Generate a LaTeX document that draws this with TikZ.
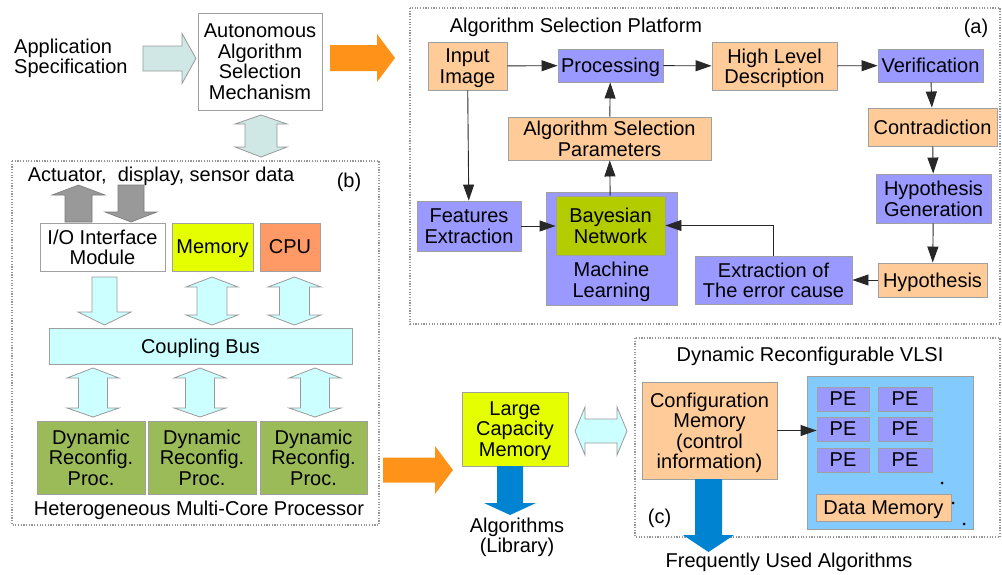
\documentclass[tikz,border=0pt]{standalone}
\usepackage{fontspec}
\setmainfont{Liberation Sans}
\usetikzlibrary{arrows.meta}

\definecolor{peach}{RGB}{255,204,153}
\definecolor{peri}{RGB}{153,153,255}
\definecolor{bayes}{RGB}{178,204,0}
\definecolor{lemon}{RGB}{230,255,0}
\definecolor{cpuorange}{RGB}{255,153,102}
\definecolor{olive}{RGB}{155,187,89}
\definecolor{paleCyan}{RGB}{204,255,255}
\definecolor{paleTeal}{RGB}{207,231,229}
\definecolor{midGray}{RGB}{153,153,153}
\definecolor{hotOrange}{RGB}{255,147,26}
\definecolor{deepBlue}{RGB}{0,132,209}
\definecolor{skyPanel}{RGB}{131,202,255}
\definecolor{boxline}{RGB}{160,160,160}
\definecolor{dotgray}{RGB}{150,150,150}
\definecolor{lineblack}{RGB}{40,40,40}

% block arrows: vertical single, horizontal single, vertical double, horizontal double
\newcommand{\BlkV}[7]{% style, cx, start y, body half, head half, head base y, tip y
  \path[#1] ({#2-#4},#3) -- ({#2+#4},#3) -- ({#2+#4},#6) -- ({#2+#5},#6) -- (#2,#7)
    -- ({#2-#5},#6) -- ({#2-#4},#6) -- cycle;}
\newcommand{\BlkH}[7]{% style, cy, start x, body half, head half, head base x, tip x
  \path[#1] (#3,{#2-#4}) -- (#3,{#2+#4}) -- (#6,{#2+#4}) -- (#6,{#2+#5}) -- (#7,#2)
    -- (#6,{#2-#5}) -- (#6,{#2-#4}) -- cycle;}
\newcommand{\BlkVV}[8]{% style, cx, top tip, top base, bottom base, bottom tip, body half, head half
  \path[#1] (#2,#3) -- ({#2+#8},#4) -- ({#2+#7},#4) -- ({#2+#7},#5) -- ({#2+#8},#5) -- (#2,#6)
    -- ({#2-#8},#5) -- ({#2-#7},#5) -- ({#2-#7},#4) -- ({#2-#8},#4) -- cycle;}
\newcommand{\BlkHH}[8]{% style, cy, left tip, left base, right base, right tip, body half, head half
  \path[#1] (#3,#2) -- (#4,{#2-#8}) -- (#4,{#2-#7}) -- (#5,{#2-#7}) -- (#5,{#2-#8}) -- (#6,#2)
    -- (#5,{#2+#8}) -- (#5,{#2+#7}) -- (#4,{#2+#7}) -- (#4,{#2+#8}) -- cycle;}

\tikzset{
  txt/.style={font=\fontsize{20}{20.5}\selectfont, text depth=0pt},
  box/.style={txt, draw=boxline, line width=0.9pt, inner sep=0pt, align=center},
  lbl/.style={txt, inner sep=0pt, align=center},
  frame/.style={draw=dotgray, line width=1.3pt, dash pattern=on 1.2pt off 1.5pt},
  conn/.style={draw=lineblack, line width=0.9pt, -{Triangle[length=16pt,width=11pt]}},
  tealarr/.style={fill=paleTeal, draw=midGray, line width=0.8pt},
  cyanarr/.style={fill=paleCyan, draw=midGray, line width=0.8pt},
  grayarr/.style={fill=midGray, draw=midGray!80!black, line width=0.6pt},
  orangearr/.style={fill=hotOrange},
  bluearr/.style={fill=deepBlue},
}

\begin{document}
\begin{tikzpicture}[x=1pt,y=-1pt]
\useasboundingbox (0,0) rectangle (1002,574);

% ---------- top: specification and selection mechanism ----------
\node[lbl, anchor=west, align=left] (spec) at (14,56) {Application\\Specification};
\node[box, fill=white, minimum width=124pt, minimum height=97pt] (auto) at (260,61.5)
  {Autonomous\\Algorithm\\Selection\\Mechanism};
\BlkH{tealarr}{58.5}{143}{12.5}{25}{182}{196}
\BlkH{orangearr}{58}{330}{13}{24}{377}{395}
\BlkVV{tealarr}{261}{115}{124}{147}{157}{16}{26}

% ---------- (b) heterogeneous multi-core processor ----------
\path[frame] (12,161) rectangle (379,525);
\node[lbl] (sensors) at (161,174.5) {Actuator,\ \ display, sensor data};
\node[lbl] (tagb) at (349,180.5) {(b)};
\node[box, fill=white, minimum width=125pt, minimum height=48pt] (io) at (102.5,247) {I/O Interface\\Module};
\node[box, fill=lemon, minimum width=81pt, minimum height=48pt] (mem) at (212.5,247) {Memory};
\node[box, fill=cpuorange, minimum width=60pt, minimum height=48pt] (cpu) at (290,247) {CPU};
\node[box, fill=paleCyan, minimum width=303pt, minimum height=36pt] (bus) at (200.5,346) {Coupling Bus};
\node[box, fill=olive, minimum width=108pt, minimum height=73pt] (drp1) at (91,457.5) {Dynamic\\Reconfig.\\Proc.};
\node[box, fill=olive, minimum width=108pt, minimum height=73pt] (drp2) at (202,457.5) {Dynamic\\Reconfig.\\Proc.};
\node[box, fill=olive, minimum width=107pt, minimum height=73pt] (drp3) at (313.5,457.5) {Dynamic\\Reconfig.\\Proc.};
\node[lbl] (hetero) at (199,508.5) {Heterogeneous Multi-Core Processor};

\BlkV{grayarr}{78.5}{222}{13.5}{26.5}{195}{185}
\BlkV{grayarr}{131}{185}{13}{26}{212}{222}
\BlkV{cyanarr}{104.5}{277}{12.5}{26.5}{312}{325}
\BlkVV{cyanarr}{212}{277}{287}{315}{325}{15}{26}
\BlkVV{cyanarr}{294.5}{277}{287}{315}{325}{15}{26.5}
\BlkVV{cyanarr}{93}{368}{378}{408}{417}{14.5}{26}
\BlkVV{cyanarr}{200}{368}{378}{408}{417}{14.5}{26}
\BlkVV{cyanarr}{315}{368}{378}{408}{417}{14.5}{26}

% ---------- (a) algorithm selection platform ----------
\path[frame] (410,8) rectangle (1000,324);
\node[lbl] (titleA) at (576,25.5) {Algorithm Selection Platform};
\node[lbl] (taga) at (976,26) {(a)};
\node[box, fill=peach, minimum width=79pt, minimum height=48pt] (input) at (467.5,66) {Input\\Image};
\node[box, fill=peri, minimum width=105pt, minimum height=33pt] (proc) at (610.5,65.5) {Processing};
\node[box, fill=peach, minimum width=125pt, minimum height=48pt] (hld) at (774.5,66) {High Level\\Description};
\node[box, fill=peri, minimum width=105pt, minimum height=33pt] (verif) at (930.5,65.5) {Verification};
\node[box, fill=peach, minimum width=129pt, minimum height=38pt] (contra) at (932.5,127) {Contradiction};
\node[box, fill=peach, minimum width=203pt, minimum height=43pt] (asp) at (609.5,138.5) {Algorithm Selection\\Parameters};
\node[box, fill=peri, minimum width=104pt, minimum height=50pt] (feat) at (469,226) {Features\\Extraction};
\node[box, fill=peri, minimum width=131pt, minimum height=113pt] (ml) at (611.5,248.5) {};
\node[lbl] (mltext) at (611.5,279.7) {Machine\\Learning};
\node[box, fill=bayes, minimum width=109pt, minimum height=59pt] (bayes) at (610.5,225.5) {Bayesian\\Network};
\node[box, fill=peri, minimum width=115pt, minimum height=49pt] (hypgen) at (933.5,198.5) {Hypothesis\\Generation};
\node[box, fill=peach, minimum width=109pt, minimum height=34pt] (hyp) at (932.5,280) {Hypothesis};
\node[box, fill=peri, minimum width=157pt, minimum height=48pt] (err) at (773.5,280) {Extraction of\\The error cause};

\draw[conn] (input) -- (proc);
\draw[conn] (proc) -- (hld);
\draw[conn] (hld) -- (verif);
\draw[conn] (verif) -- (contra);
\draw[conn] (contra) -- (hypgen);
\draw[conn] (hypgen) -- (hyp);
\draw[conn] (hyp) -- (err);
\draw[conn] (err.north) |- (bayes.east);
\draw[conn] (feat) -- (feat -| bayes.west);
\draw[conn] (bayes) -- (asp);
\draw[conn] (asp) -- (proc);
\draw[conn] (input) -- (feat);

% ---------- library memory ----------
\node[box, fill=lemon, minimum width=106pt, minimum height=74pt] (lcm) at (515,429) {Large\\Capacity\\Memory};
\node[lbl] (lib) at (517,535) {Algorithms\\(Library)};
\BlkH{orangearr}{470}{383}{12.5}{24}{435}{453}
\BlkV{bluearr}{510}{466}{13}{26}{503}{515}
\BlkHH{cyanarr}{431}{575}{585}{617}{627}{12}{24}

% ---------- (c) dynamic reconfigurable VLSI ----------
\path[frame] (635,338) rectangle (1000,537);
\node[lbl] (titleC) at (810,353.8) {Dynamic Reconfigurable VLSI};
\node[lbl] (tagc) at (659.5,516.7) {(c)};
\node[box, fill=peach, minimum width=135pt, minimum height=97pt] (config) at (709.5,430.5)
  {Configuration\\Memory\\(control\\information)};
\node[box, fill=skyPanel, minimum width=166pt, minimum height=153pt] (panel) at (890,452.5) {};
\foreach \r/\y in {1/399,2/429,3/460}{
  \node[box, fill=peri, minimum width=52pt, minimum height=24pt] (pe\r1) at (843,\y) {PE};
  \node[box, fill=peri, minimum width=54pt, minimum height=24pt] (pe\r2) at (905,\y) {PE};
}
\node[box, fill=peach, minimum width=135pt, minimum height=27pt] (dmem) at (883.5,507.5) {Data Memory};
\foreach \i/\px/\py in {1/942/483,2/953/503,3/964/524}
  \fill (\px,\py) circle (1.5pt);
\draw[conn] (config) -- (config -| pe21.west);
\BlkV{bluearr}{708.5}{479}{13.5}{25.5}{535}{552}
\node[lbl] (freq) at (789,560) {Frequently Used Algorithms};
\end{tikzpicture}
\end{document}
